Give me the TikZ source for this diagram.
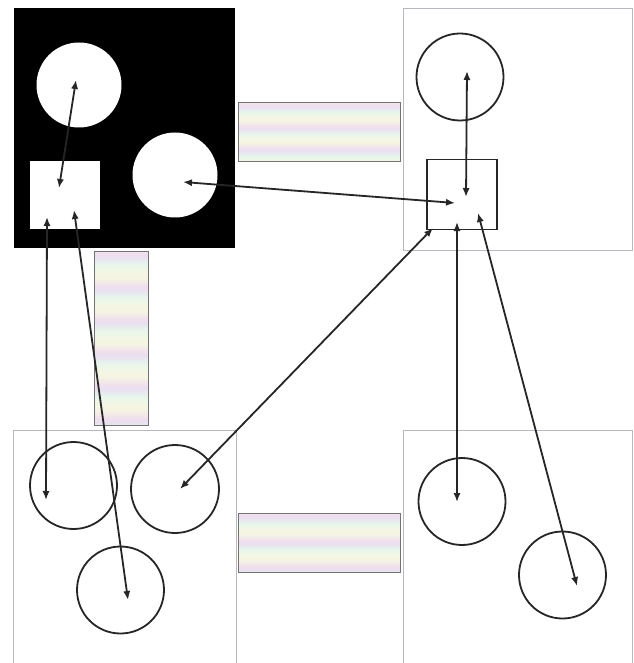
\documentclass[tikz,border=0pt]{standalone}
\usetikzlibrary{arrows.meta}
\definecolor{pk}{HTML}{ECD6F2}
\definecolor{gr}{HTML}{E4F6EE}
\definecolor{yl}{HTML}{F8F8E0}
\definecolor{framegray}{HTML}{B8B8C0}
\tikzset{
  panel/.style={draw=framegray, line width=0.5pt},
  ring/.style={circle, draw=black!85, line width=0.9pt, inner sep=0pt, minimum size=#1},
  hole/.style={circle, fill=white, inner sep=0pt, minimum size=#1},
  sqhole/.style={rectangle, fill=white, inner sep=0pt, minimum width=35pt, minimum height=34pt},
  sqbox/.style={rectangle, draw=black!85, line width=0.9pt, inner sep=0pt, minimum width=35pt, minimum height=35pt},
  link/.style={draw=black!85, line width=0.9pt, {Latex[length=4.5pt,width=3.6pt]}-{Latex[length=4.5pt,width=3.6pt]}},
  band/.style={draw=black!55, line width=0.5pt}
}
\newcommand{\stripeband}[6]{% name, x1, y1, x2, y2, period
  \pgfmathtruncatemacro{\nrows}{#5-#3-1}
  \foreach \rw in {0,...,\nrows}{
    \pgfmathsetmacro{\angv}{mod(\rw,#6)*(360/#6)}
    \pgfmathtruncatemacro{\pmix}{50+50*cos(\angv)}
    \pgfmathtruncatemacro{\qmix}{60+40*sin(\angv)}
    \fill[pk!\pmix!gr!\qmix!yl] (#2,#3+\rw) rectangle (#4,#3+\rw+1.1);
  }
  \node[band, rectangle, inner sep=0pt, minimum width={(#4-#2)*0.5pt}, minimum height={(#5-#3)*0.5pt}] (#1) at ({(#2+#4)/2},{(#3+#5)/2}) {};
}
\begin{document}
\begin{tikzpicture}[x=0.5pt,y=-0.5pt]
\useasboundingbox[fill=white] (0,0) rectangle (633,663);

% top-left black panel
\fill[black] (14,8) rectangle (235,248);
\node[hole=42.5pt] (tlc) at (79,85) {};
\node[hole=42.5pt] (tlr) at (175,175) {};
\node[sqhole] (tls) at (64.5,195) {};

% top-right panel
\draw[panel] (403,9) rectangle (632,250);
\node[ring=43.5pt] (trc) at (460,77) {};
\node[sqbox] (trs) at (462,194.5) {};

% bottom-left panel
\draw[panel] (13,663) -- (13,430) -- (236,430) -- (236,663);
\node[ring=43.5pt] (bl1) at (73.5,485.5) {};
\node[ring=44pt] (bl2) at (175,489) {};
\node[ring=43.5pt] (bl3) at (120.5,590) {};

% bottom-right panel
\draw[panel] (403,663) -- (403,430) -- (632,430) -- (632,663);
\node[ring=43.5pt] (br1) at (462,501.5) {};
\node[ring=43.5pt] (br2) at (562.5,575) {};

% striped bands
\stripeband{bt}{238}{103}{400}{162}{22}
\stripeband{bv}{94}{251}{148}{425}{33}
\stripeband{bb}{238}{513}{400}{572}{26}

% arrow end points
\coordinate (a1) at (76,80);
\coordinate (a2) at (59,188);
\coordinate (a3) at (47,217);
\coordinate (a4) at (74,210);
\coordinate (a5) at (183,182);
\coordinate (b1) at (467,71);
\coordinate (b2) at (466,197);
\coordinate (b3) at (455,203);
\coordinate (b4) at (433,228);
\coordinate (b5) at (457,222);
\coordinate (b6) at (478,213);
\coordinate (c1) at (46,500);
\coordinate (c2) at (180,489);
\coordinate (c3) at (128,600);
\coordinate (d1) at (457,502);
\coordinate (d2) at (577,586);

\draw[link] (a2) -- (a1);
\draw[link] (a3) -- (c1);
\draw[link] (a4) -- (c3);
\draw[link] (a5) -- (b3);
\draw[link] (b1) -- (b2);
\draw[link] (b4) -- (c2);
\draw[link] (b5) -- (d1);
\draw[link] (b6) -- (d2);
\end{tikzpicture}
\end{document}
